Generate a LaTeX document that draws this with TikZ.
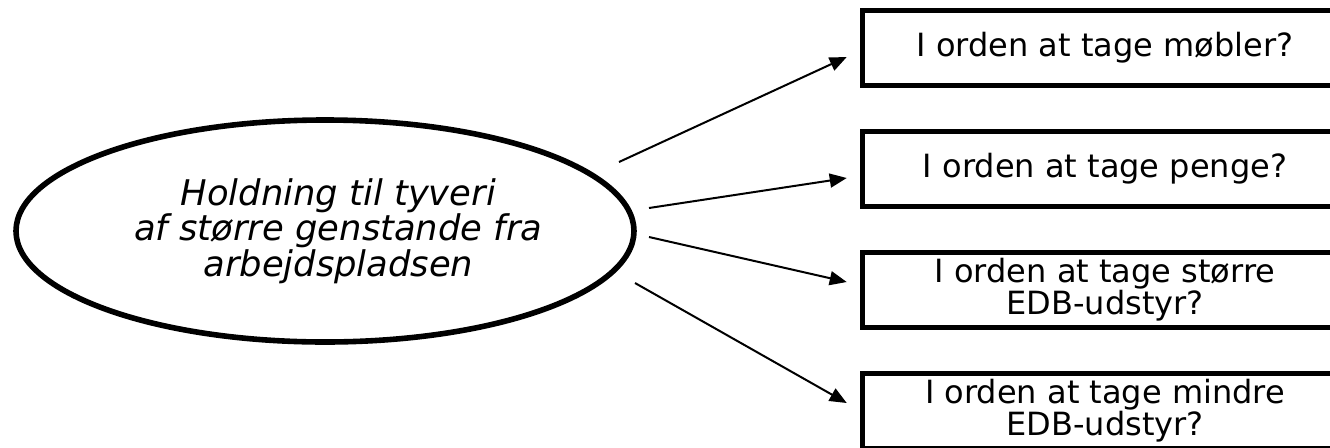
\documentclass[tikz,border=0pt]{standalone}
\usepackage{fontspec}
\setmainfont{DejaVu Sans}
\usetikzlibrary{shapes.geometric,arrows.meta}
\tikzset{
  question/.style={draw, rectangle, line width=4pt, inner sep=0pt, outer sep=0pt,
    minimum width=363.4pt, minimum height=55.9pt, align=center,
    font=\fontsize{24pt}{21pt}\selectfont},
  attitude/.style={draw, ellipse, line width=4.2pt, inner sep=0pt, outer sep=0pt,
    minimum width=463.5pt, minimum height=166.5pt},
  attitudetext/.style={inner sep=0pt, align=center,
    font=\fontsize{26.5pt}{23.5pt}\selectfont\itshape},
  link/.style={line width=1.5pt, -{Triangle[length=12.75pt,width=10.5pt]}}
}

\begin{document}
\begin{tikzpicture}[x=0.75pt,y=-0.75pt]
	%%%%% START %%%%%
	\useasboundingbox (0,0) rectangle (1330,447);
	\clip (0,0) rectangle (1330,447);
	
	\node[attitude] (holdning) at (325,231) {};
	\node[attitudetext] (holdningtekst) at ([xshift=10]holdning.center) {Holdning til tyveri\\af større genstande fra\\arbejdspladsen};
	
	\node[question] (mobler) at (1105,48) {I orden at tage møbler?};
	\node[question] (penge) at (1105,169) {I orden at tage penge?};
	\node[question] (storre) at (1105,290) {I orden at tage større\\EDB-udstyr?};
	\node[question] (mindre) at (1105,411) {I orden at tage mindre\\EDB-udstyr?};
	
	\draw[link] ([shift={(-15,-69)}]holdning.east) -- ([shift={(-16,9)}]mobler.west);
	\draw[link] ([shift={(15,-23)}]holdning.east) -- ([shift={(-16,9)}]penge.west);
	\draw[link] ([shift={(15,6)}]holdning.east) -- ([shift={(-16,-8)}]storre.west);
	\draw[link] ([shift={(1,52)}]holdning.east) -- ([shift={(-16,-8)}]mindre.west);
	
	%%%%% END %%%%%
\end{tikzpicture}
\end{document}
